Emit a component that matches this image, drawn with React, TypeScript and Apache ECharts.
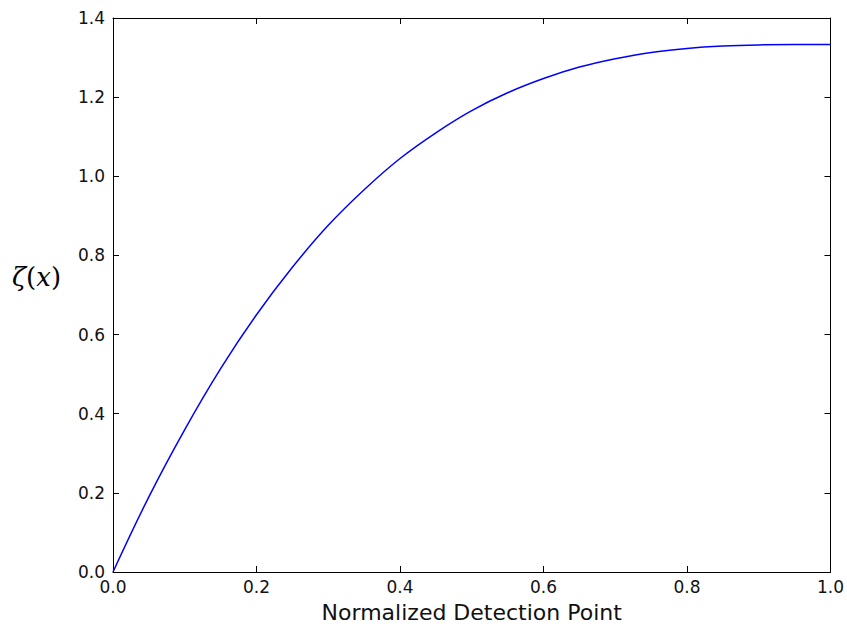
import React, { useEffect, useRef } from "react";
import * as echarts from "echarts";

const xValues = [0, 0.05, 0.1, 0.15, 0.2, 0.25, 0.3, 0.35, 0.4, 0.45, 0.5, 0.55, 0.6, 0.65, 0.7, 0.75, 0.8, 0.85, 0.9, 0.95, 1.0];
const zetaValues = [0, 0.19, 0.36, 0.514, 0.65, 0.77, 0.876, 0.966, 1.045, 1.11, 1.166, 1.211, 1.247, 1.276, 1.297, 1.313, 1.323, 1.329, 1.332, 1.333, 1.333];
const xAxisTitle = "Normalized Detection Point";

export default function App() {
  const ref = useRef<HTMLDivElement>(null);
  useEffect(() => {
    if (!ref.current) return;
    const chart = echarts.init(ref.current, undefined, { renderer: "svg" });
    const fmt = (v: number) => v.toFixed(1);
    const axisCommon = {
      type: "value" as const,
      axisLine: { show: true, onZero: false, lineStyle: { color: "#000", width: 1 } },
      axisTick: { show: true, inside: true, length: 6, lineStyle: { color: "#000", width: 1 } },
      splitLine: { show: false },
    };
    chart.setOption({
      animation: false,
      backgroundColor: "#fff",
      grid: { left: 113, top: 18, width: 718, height: 555, containLabel: false },
      xAxis: [
        {
          ...axisCommon,
          position: "bottom",
          min: 0,
          max: 1,
          interval: 0.2,
          axisLabel: { show: true, margin: 6, color: "#111", fontSize: 17, fontFamily: "DejaVu Sans", formatter: fmt },
          name: xAxisTitle,
          nameLocation: "middle",
          nameGap: 29,
          nameTextStyle: { color: "#111", fontSize: 22, fontFamily: "DejaVu Sans", verticalAlign: "top" },
        },
        {
          ...axisCommon,
          position: "top",
          min: 0,
          max: 1,
          interval: 0.2,
          axisLabel: { show: false },
        },
      ],
      yAxis: [
        {
          ...axisCommon,
          position: "left",
          min: 0,
          max: 1.4,
          interval: 0.2,
          axisLabel: { show: true, margin: 8, color: "#111", fontSize: 17, fontFamily: "DejaVu Sans", formatter: fmt },
        },
        {
          ...axisCommon,
          position: "right",
          min: 0,
          max: 1.4,
          interval: 0.2,
          axisLabel: { show: false },
        },
      ],
      graphic: [
        {
          type: "text",
          left: 12,
          top: 264,
          style: {
            text: "{i|ζ}{u|(}{i|x}{u|)}",
            rich: {
              i: { fontFamily: "DejaVu Serif", fontStyle: "italic", fontSize: 26, fill: "#000" },
              u: { fontFamily: "DejaVu Serif", fontSize: 26, fill: "#000" },
            },
          },
        },
      ],
      series: [
        {
          type: "line",
          xAxisIndex: 0,
          yAxisIndex: 0,
          data: xValues.map((x, i) => [x, zetaValues[i]]),
          showSymbol: false,
          smooth: 0.4,
          lineStyle: { color: "#0000ff", width: 1.5 },
          itemStyle: { color: "#0000ff" },
        },
      ],
    });
    return () => chart.dispose();
  }, []);
  return <div ref={ref} style={{ position: "fixed", left: 0, top: 0, width: 847, height: 628 }} />;
}
